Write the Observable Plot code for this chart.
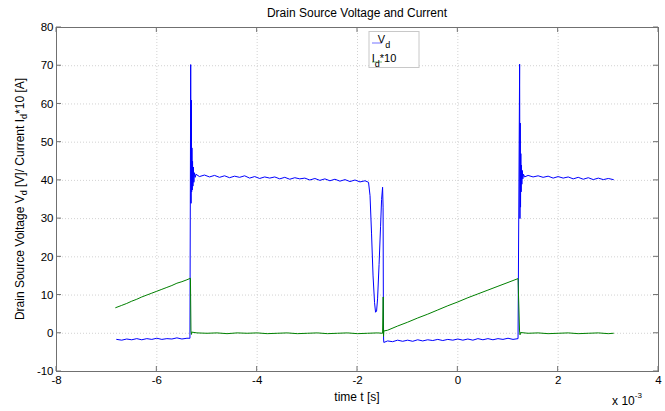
<!DOCTYPE html>
<html><head><meta charset="utf-8">
<script src="https://cdn.jsdelivr.net/npm/d3@7"></script>
<script src="https://cdn.jsdelivr.net/npm/@observablehq/plot@0.6"></script>
<style>body{margin:0;background:#fff}</style>
</head><body><div id="chart"></div>
<script>
// time in units of 1e-3 s (axis multiplier "x 10^-3")
const vdT = [-6.80,-6.70,-6.60,-6.50,-6.40,-6.30,-6.20,-6.10,-6.00,-5.90,-5.80,-5.70,-5.60,-5.50,-5.40,-5.34,
  -5.325,-5.318,-5.312,-5.306,-5.300,-5.294,-5.288,-5.280,-5.272,-5.262,-5.250,-5.235,-5.22,
  -5.15,-5.05,-4.95,-4.85,-4.75,-4.65,-4.55,-4.45,-4.35,-4.25,-4.15,-4.05,-3.95,-3.85,-3.75,-3.65,-3.55,-3.45,-3.35,-3.25,-3.15,-3.05,-2.95,-2.85,-2.75,-2.65,-2.55,-2.45,-2.35,-2.25,-2.15,-2.05,-1.95,-1.85,-1.78,
  -1.75,-1.72,-1.69,-1.66,-1.64,-1.62,-1.60,-1.57,-1.54,-1.52,-1.50,-1.49,-1.485,-1.48,-1.475,
  -1.40,-1.30,-1.20,-1.10,-1.00,-0.90,-0.80,-0.70,-0.60,-0.50,-0.40,-0.30,-0.20,-0.10,0.00,0.10,0.20,0.30,0.40,0.50,0.60,0.70,0.80,0.90,1.00,1.10,1.20,
  1.232,1.238,1.244,1.250,1.256,1.262,1.268,1.276,1.285,1.295,1.31,1.33,
  1.40,1.50,1.60,1.70,1.80,1.90,2.00,2.10,2.20,2.30,2.40,2.50,2.60,2.70,2.80,2.90,3.00,3.10];
const vdV = [-1.6,-1.8,-1.5,-1.7,-1.4,-1.7,-1.4,-1.6,-1.3,-1.6,-1.4,-1.5,-1.2,-1.5,-1.3,-1.3,
  70.3,34,61,37,48.5,37.5,45,38.5,43.5,39.5,42,40.8,41.6,
  41.0,41.4,40.9,41.3,40.8,41.2,40.7,41.1,40.8,41.2,40.6,41.0,40.5,40.9,40.6,40.9,40.4,40.8,40.3,40.7,40.4,40.6,40.1,40.5,40.0,40.4,39.9,40.3,39.8,40.2,39.7,40.1,39.6,39.9,39.5,
  36,26,15,8,5.5,5.8,9,18,28,35,38.2,33,10,-1.5,-2.4,
  -2.0,-2.2,-1.8,-2.1,-1.8,-2.1,-1.7,-2.0,-1.7,-1.9,-1.6,-1.9,-1.6,-1.8,-1.5,-1.8,-1.5,-1.8,-1.4,-1.7,-1.4,-1.7,-1.4,-1.6,-1.3,-1.6,-1.4,
  70.4,30,55,33,47,37,44,39,42.6,40.4,41.6,40.9,
  41.3,40.9,41.2,40.8,41.1,40.6,41.0,40.6,40.9,40.4,40.8,40.3,40.7,40.2,40.6,40.2,40.5,40.2];
const idT = [-6.82,-6.70,-6.60,-6.50,-6.40,-6.30,-6.20,-6.10,-6.00,-5.90,-5.80,-5.70,-5.60,-5.50,-5.40,-5.33,
  -5.32,-5.31,-5.30,
  -5.20,-5.0,-4.8,-4.6,-4.4,-4.2,-4.0,-3.8,-3.6,-3.4,-3.2,-3.0,-2.8,-2.6,-2.4,-2.2,-2.0,-1.8,-1.6,-1.50,
  -1.488,-1.482,-1.475,
  -1.40,-1.20,-1.00,-0.80,-0.60,-0.40,-0.20,0.00,0.20,0.40,0.60,0.80,1.00,1.20,
  1.23,1.24,1.25,
  1.4,1.6,1.8,2.0,2.2,2.4,2.6,2.8,3.0,3.1];
const idV = [6.7,7.3,7.8,8.4,8.9,9.5,10.0,10.5,11.0,11.5,12.0,12.5,13.1,13.5,14.0,14.4,
  0.8,-0.3,0.3,
  0.1,0.0,0.1,-0.1,0.1,0.0,0.1,-0.1,0.0,0.1,-0.1,0.0,0.1,-0.1,0.0,0.1,-0.1,0.0,0.1,0.0,
  9.5,-0.8,0.6,
  0.8,1.9,2.9,4.0,5.0,6.1,7.2,8.2,9.3,10.3,11.3,12.3,13.3,14.3,
  0.6,-0.4,0.2,
  0.0,0.1,-0.1,0.0,0.1,-0.1,0.0,0.1,-0.1,0.0];
const xTicks = [-8,-6,-4,-2,0,2,4];
const yTicks = [-10,0,10,20,30,40,50,60,70,80];
const colors = ["#0000ff","#008000"];

const vd = vdT.map((t,i)=>({t, v: vdV[i]}));
const id = idT.map((t,i)=>({t, v: idV[i]}));
const FONT = "'Liberation Sans', Arial, Helvetica, sans-serif";

const plot = Plot.plot({
  width: 665, height: 411,
  marginLeft: 56, marginRight: 7, marginTop: 27, marginBottom: 40,
  style: {fontFamily: FONT, fontSize: "11.5px", background: "#fff", color: "#000"},
  x: {domain: [-8, 4]},
  y: {domain: [-10, 80]},
  marks: [
    Plot.gridX(xTicks, {stroke: "#d2d2d2", strokeOpacity: 1, strokeDasharray: "1,2"}),
    Plot.gridY(yTicks, {stroke: "#d2d2d2", strokeOpacity: 1, strokeDasharray: "1,2"}),
    Plot.axisX(xTicks, {tickSize: 0, tickPadding: 4, tickFormat: d => String(d), label: null, fill: "#000"}),
    Plot.axisY(yTicks, {tickSize: 0, tickPadding: 3, tickFormat: d => String(d), label: null, fill: "#000"}),
    Plot.line(vd, {x: "t", y: "v", stroke: colors[0], strokeWidth: 1}),
    Plot.line(id, {x: "t", y: "v", stroke: colors[1], strokeWidth: 1}),
    Plot.frame({stroke: "#707070"})
  ]
});
document.getElementById("chart").appendChild(plot);

const svg = d3.select(plot);
const sx = plot.scale("x").apply, sy = plot.scale("y").apply;
const [x0, x1] = [sx(-8), sx(4)], [yb, yt] = [sy(-10), sy(80)];
const tk = svg.append("g").attr("stroke", "#707070").attr("stroke-width", 1);
xTicks.forEach(v => {
  tk.append("line").attr("x1", sx(v)).attr("x2", sx(v)).attr("y1", yb).attr("y2", yb - 5);
  tk.append("line").attr("x1", sx(v)).attr("x2", sx(v)).attr("y1", yt).attr("y2", yt + 5);
});
yTicks.forEach(v => {
  tk.append("line").attr("y1", sy(v)).attr("y2", sy(v)).attr("x1", x0).attr("x2", x0 + 5);
  tk.append("line").attr("y1", sy(v)).attr("y2", sy(v)).attr("x1", x1).attr("x2", x1 - 5);
});

const txt = svg.append("g").attr("font-family", FONT).attr("fill", "#000");
const cx = (x0 + x1) / 2;
txt.append("text").attr("x", cx).attr("y", 17).attr("text-anchor", "middle").attr("font-size", 12).text("Drain Source Voltage and Current");
txt.append("text").attr("x", cx).attr("y", 401).attr("text-anchor", "middle").attr("font-size", 12).text("time t [s]");
const ex = txt.append("text").attr("x", 627).attr("y", 405).attr("font-size", 12);
ex.append("tspan").text("x 10");
ex.append("tspan").attr("font-size", 8).attr("dy", -7).text("-3");

const yl = txt.append("text").attr("transform", `translate(24,${(yb + yt) / 2}) rotate(-90)`).attr("text-anchor", "middle").attr("font-size", 12);
yl.append("tspan").text("Drain Source Voltage V");
yl.append("tspan").attr("font-size", 9).attr("dy", 3).text("d");
yl.append("tspan").attr("dy", -3).text(" [V]/ Current I");
yl.append("tspan").attr("font-size", 9).attr("dy", 3).text("d");
yl.append("tspan").attr("dy", -3).text("*10 [A]");

// legend
const lg = svg.append("g").attr("font-family", FONT);
lg.append("rect").attr("x", 369).attr("y", 31.5).attr("width", 50).attr("height", 36).attr("fill", "#fff").attr("stroke", "#c8c8c8");
const entries = [["V", "", 43], ["I", "*10", 62]];
entries.forEach(([a, b, y], i) => {
  lg.append("line").attr("x1", 372).attr("x2", 382).attr("y1", y).attr("y2", y).attr("stroke", colors[i]).attr("stroke-opacity", 0.55);
  const t = lg.append("text").attr("x", 384).attr("y", y).attr("font-size", 11).attr("fill", "#000");
  t.append("tspan").text(a);
  t.append("tspan").attr("font-size", 9).attr("dy", 5).text("d");
  if (b) t.append("tspan").attr("dy", -5).text(b);
});
</script>
</body></html>
